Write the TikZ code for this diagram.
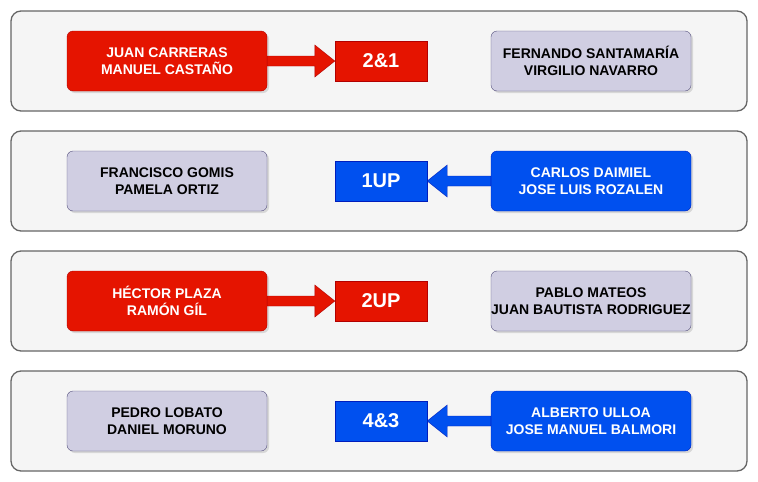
\documentclass[tikz,border=0pt]{standalone}
\usepackage{fontspec}
\setmainfont{Liberation Sans}
\usetikzlibrary{positioning,calc,shadows}

\definecolor{winred}{HTML}{E51400}
\definecolor{winredd}{HTML}{B20000}
\definecolor{winblue}{HTML}{0050EF}
\definecolor{winblued}{HTML}{001DBC}
\definecolor{loser}{HTML}{D0CEE2}
\definecolor{loserd}{HTML}{56517E}
\definecolor{rowbg}{HTML}{F5F5F5}
\definecolor{rowline}{HTML}{666666}

\tikzset{
    match/.style={draw=rowline, fill=rowbg, line width=1.3pt, rounded corners=10pt,
        minimum width=736pt, minimum height=100pt},
    pair/.style={rounded corners=6pt, minimum width=200pt, minimum height=60pt, align=center,
        inner sep=0pt, font=\bfseries\fontsize{14}{17}\selectfont,
        drop shadow={opacity=0.25, shadow xshift=2pt, shadow yshift=-2pt}},
    redpair/.style={pair, fill=winred, draw=winredd, text=white},
    bluepair/.style={pair, fill=winblue, draw=winblued, text=white},
    lostpair/.style={pair, fill=loser, draw=loserd, text=black},
    score/.style={minimum width=92pt, minimum height=40pt, text=white,
        font=\bfseries\fontsize{20}{22}\selectfont},
    redscore/.style={score, fill=winred, draw=winredd},
    bluescore/.style={score, fill=winblue, draw=winblued},
}

\begin{document}
\begin{tikzpicture}[x=1pt, y=-1pt]
    \useasboundingbox (0,0) rectangle (758,482);

    % matches
    \node[match] (m1) at (379,61) {};
    \node[match] (m2) at (379,181) {};
    \node[match] (m3) at (379,301) {};
    \node[match] (m4) at (379,421) {};

    % match 1
    \node[redpair] (a1) at (167,61) {JUAN CARRERAS\\MANUEL CASTAÑO};
    \node[redscore] (s1) at (381,61) {2\&1};
    \node[lostpair] (b1) at (591,61) {FERNANDO SANTAMARÍA\\VIRGILIO NAVARRO};
    \filldraw[fill=winred, draw=winredd] ($(a1.east)+(0,-5)$) -- ($(s1.west)+(-20,-5)$)
        -- ($(s1.west)+(-20,-16)$) -- (s1.west) -- ($(s1.west)+(-20,16)$)
        -- ($(s1.west)+(-20,5)$) -- ($(a1.east)+(0,5)$) -- cycle;

    % match 2
    \node[lostpair] (a2) at (167,181) {FRANCISCO GOMIS\\PAMELA ORTIZ};
    \node[bluescore] (s2) at (381,181) {1UP};
    \node[bluepair] (b2) at (591,181) {CARLOS DAIMIEL\\JOSE LUIS ROZALEN};
    \filldraw[fill=winblue, draw=winblued] ($(b2.west)+(0,-5)$) -- ($(s2.east)+(20,-5)$)
        -- ($(s2.east)+(20,-16)$) -- (s2.east) -- ($(s2.east)+(20,16)$)
        -- ($(s2.east)+(20,5)$) -- ($(b2.west)+(0,5)$) -- cycle;

    % match 3
    \node[redpair] (a3) at (167,301) {HÉCTOR PLAZA\\RAMÓN GÍL};
    \node[redscore] (s3) at (381,301) {2UP};
    \node[lostpair] (b3) at (591,301) {PABLO MATEOS\\JUAN BAUTISTA RODRIGUEZ};
    \filldraw[fill=winred, draw=winredd] ($(a3.east)+(0,-5)$) -- ($(s3.west)+(-20,-5)$)
        -- ($(s3.west)+(-20,-16)$) -- (s3.west) -- ($(s3.west)+(-20,16)$)
        -- ($(s3.west)+(-20,5)$) -- ($(a3.east)+(0,5)$) -- cycle;

    % match 4
    \node[lostpair] (a4) at (167,421) {PEDRO LOBATO\\DANIEL MORUNO};
    \node[bluescore] (s4) at (381,421) {4\&3};
    \node[bluepair] (b4) at (591,421) {ALBERTO ULLOA\\JOSE MANUEL BALMORI};
    \filldraw[fill=winblue, draw=winblued] ($(b4.west)+(0,-5)$) -- ($(s4.east)+(20,-5)$)
        -- ($(s4.east)+(20,-16)$) -- (s4.east) -- ($(s4.east)+(20,16)$)
        -- ($(s4.east)+(20,5)$) -- ($(b4.west)+(0,5)$) -- cycle;
\end{tikzpicture}
\end{document}
